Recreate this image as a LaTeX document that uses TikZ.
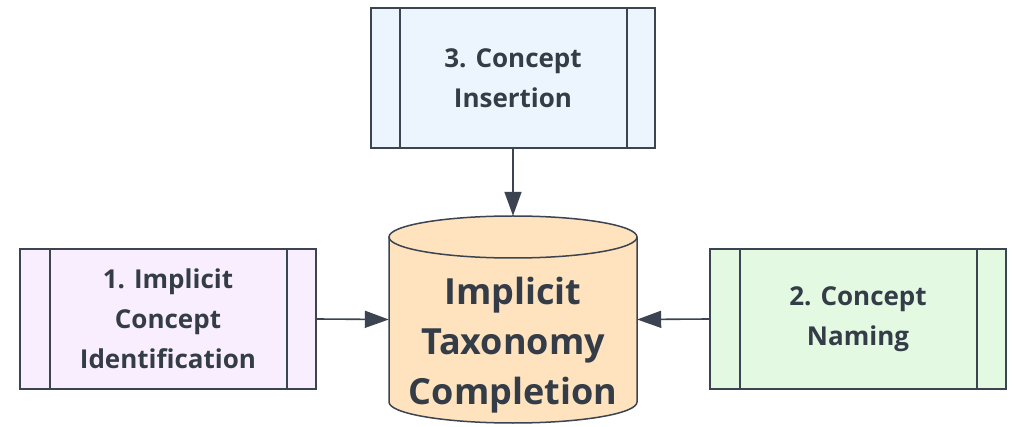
\documentclass[tikz,border=0pt]{standalone}
\usepackage{fontspec}
\setmainfont{Open Sans}
\usetikzlibrary{arrows.meta}

\definecolor{ink}{HTML}{343C48}
\definecolor{edge}{HTML}{3B4450}
\definecolor{bluefill}{HTML}{ECF4FE}
\definecolor{purplefill}{HTML}{F9EEFD}
\definecolor{greenfill}{HTML}{E3F9E2}
\definecolor{cylfill}{HTML}{FEE3BE}

\tikzset{
  subproc/.style={draw=edge, line width=1.5pt, minimum width=#1, minimum height=140pt,
    inner sep=0pt, align=center, text=ink,
    font=\fontsize{26}{40}\selectfont\bfseries},
  stripe/.style={draw=edge, line width=1.5pt},
  flow/.style={draw=edge, line width=1.6pt, -{Triangle[length=24pt,width=17pt]}},
  cyltext/.style={align=center, text=ink, font=\fontsize{36}{50}\selectfont\bfseries}
}

\begin{document}
\begin{tikzpicture}[x=1pt,y=1pt]
  \useasboundingbox[fill=white] (0,0) rectangle (1015,426);

  % database cylinder
  \fill[cylfill] (389,189) -- (389,24)
    arc[start angle=180, end angle=360, x radius=124, y radius=21]
    -- (637,189) arc[start angle=0, end angle=180, x radius=124, y radius=21] -- cycle;
  \draw[edge, line width=1.5pt] (389,189) -- (389,24)
    arc[start angle=180, end angle=360, x radius=124, y radius=21] -- (637,189);
  \draw[edge, line width=1.5pt] (513,189) ellipse[x radius=124, y radius=21];
  \node[minimum width=248pt, minimum height=207pt, inner sep=0pt] (cyl) at (513,106.5) {};
  \node[cyltext] (cyllabel) at (513,81) {Implicit\\Taxonomy\\Completion};

  % process boxes with side stripes
  \node[subproc=284pt, fill=bluefill] (insert) at (513,348) {3. Concept\\Insertion};
  \draw[stripe] (400,278) -- (400,418);
  \draw[stripe] (627,278) -- (627,418);

  \node[subproc=296pt, fill=purplefill] (ident) at (168,107) {1. Implicit\\Concept\\Identification};
  \draw[stripe] (50,37) -- (50,177);
  \draw[stripe] (287,37) -- (287,177);

  \node[subproc=296pt, fill=greenfill] (naming) at (858,107) {2. Concept\\Naming};
  \draw[stripe] (740,37) -- (740,177);
  \draw[stripe] (977,37) -- (977,177);

  % connectors into the cylinder
  \draw[flow] (insert.south) -- (cyl.north);
  \draw[flow] (ident.east) -- (cyl.west);
  \draw[flow] (naming.west) -- (cyl.east);
\end{tikzpicture}
\end{document}
